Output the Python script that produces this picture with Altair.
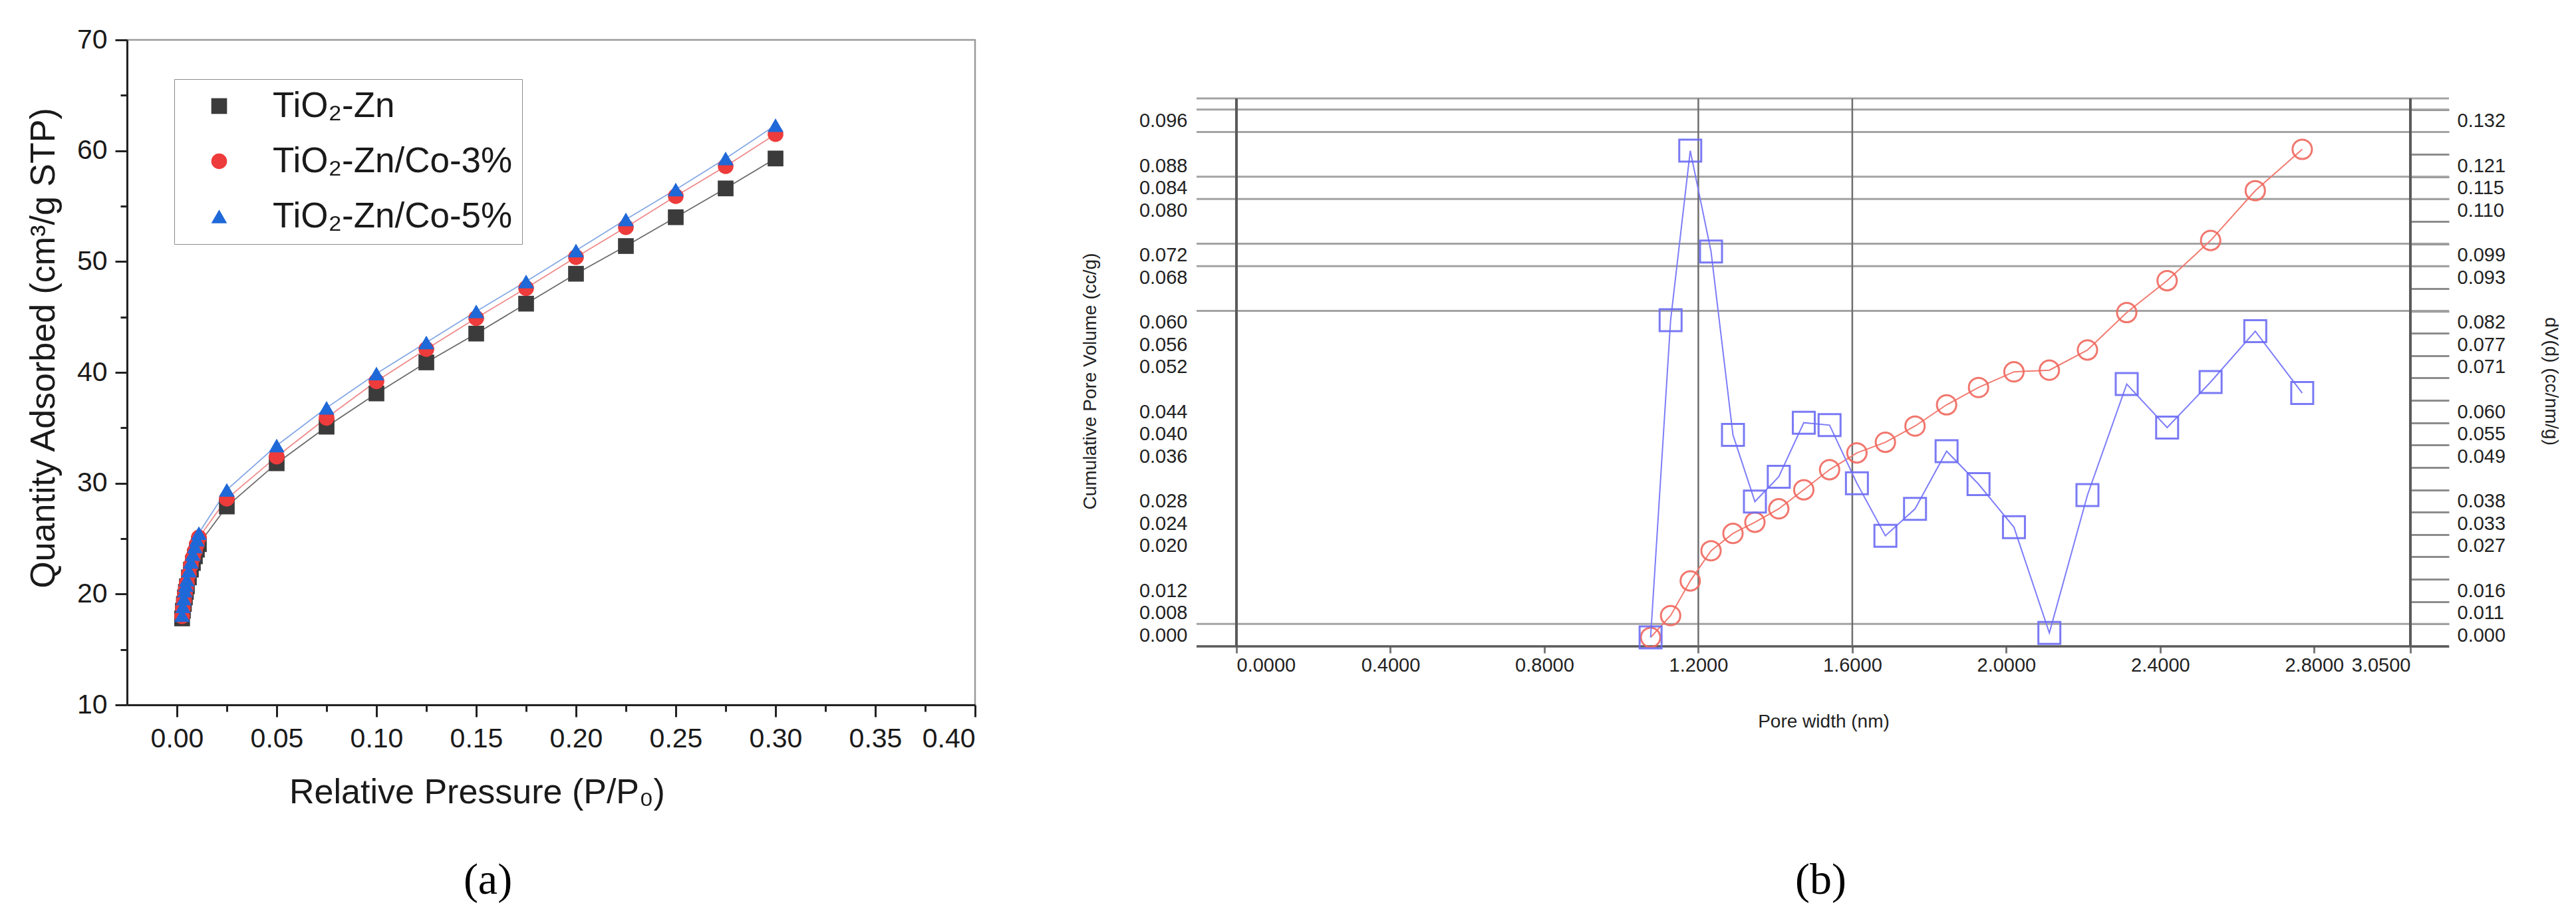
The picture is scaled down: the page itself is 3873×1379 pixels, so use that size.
import altair as alt
import pandas as pd

FONT = "Liberation Sans, Arial, DejaVu Sans, sans-serif"
SERIF = "Liberation Serif, Times New Roman, DejaVu Serif, serif"

# ---------------- Panel (a): N2 adsorption isotherms ----------------
P_REL = [0.0026, 0.003, 0.0035, 0.004, 0.0045, 0.005, 0.006, 0.007, 0.008, 0.009, 0.010, 0.011,
         0.025, 0.05, 0.075, 0.10, 0.125, 0.15, 0.175, 0.20, 0.225, 0.25, 0.275, 0.30]
Q_ZN = [17.8, 18.5, 19.1, 19.7, 20.2, 20.7, 21.5, 22.2, 22.8, 23.4, 24.0, 24.5,
        27.9, 31.8, 35.1, 38.1, 40.9, 43.5, 46.2, 48.9, 51.4, 54.0, 56.6, 59.3]
Q_CO3 = [18.0, 18.7, 19.4, 20.0, 20.5, 21.0, 21.8, 22.6, 23.3, 23.9, 24.5, 25.1,
         28.6, 32.4, 35.9, 39.2, 42.1, 44.9, 47.6, 50.4, 53.1, 55.9, 58.6, 61.5]
Q_CO5 = [18.1, 18.9, 19.6, 20.3, 20.8, 21.3, 22.1, 22.9, 23.6, 24.3, 24.9, 25.5,
         29.4, 33.4, 36.8, 39.9, 42.7, 45.5, 48.2, 51.0, 53.8, 56.5, 59.3, 62.3]
SERIES = ["TiO\u2082-Zn", "TiO\u2082-Zn/Co-3%", "TiO\u2082-Zn/Co-5%"]
SHAPES = ["square", "circle", "triangle-up"]
POINT_COLORS = ["#3b3b3b", "#ee3b3b", "#1f68d8"]
LINE_COLORS = ["#6b6b6b", "#f08a8a", "#86a9e6"]
XA_TICKS = [round(i * 0.025, 3) for i in range(17)]
YA_TICKS = list(range(10, 75, 5))

# ---------------- Panel (b): pore size distribution ----------------
PORE_W = [1.076, 1.128, 1.179, 1.233, 1.290, 1.347, 1.409, 1.474, 1.541, 1.612, 1.686,
          1.763, 1.845, 1.928, 2.020, 2.112, 2.211, 2.313, 2.418, 2.531, 2.647, 2.769]
CUM_VOL = [0.0016, 0.0055, 0.0117, 0.0171, 0.0202, 0.0222, 0.0246, 0.0280, 0.0316, 0.0346, 0.0365,
           0.0394, 0.0432, 0.0463, 0.0491, 0.0494, 0.0530, 0.0597, 0.0654, 0.0726, 0.0815, 0.0889]
DVD = [0.0022, 0.0802, 0.1219, 0.0971, 0.0520, 0.0356, 0.0417, 0.0550, 0.0544, 0.0401, 0.0272,
       0.0338, 0.0480, 0.0399, 0.0293, 0.0033, 0.0372, 0.0645, 0.0538, 0.0650, 0.0775, 0.0623]
XB_TICKS = [0.0, 0.4, 0.8, 1.2, 1.6, 2.0, 2.4, 2.8, 3.05]
LEFT_LABELS = [0.0, 0.008, 0.012, 0.020, 0.024, 0.028, 0.036, 0.040, 0.044, 0.052, 0.056,
               0.060, 0.068, 0.072, 0.080, 0.084, 0.088, 0.096]
RIGHT_TICKS = [round(k * 0.0055, 4) for k in range(25)]
RIGHT_LABELED = [0.0, 0.011, 0.0165, 0.0275, 0.033, 0.0385, 0.0495, 0.055, 0.0605, 0.0715,
                 0.077, 0.0825, 0.0935, 0.099, 0.110, 0.1155, 0.121, 0.132]
GRID_LEFT = [0.004, 0.060, 0.068, 0.072, 0.080, 0.084, 0.092, 0.096, 0.098]
FRAME_X = [0.0, 3.05]
INNER_X = [1.2, 1.6]
LEFT_TOP = 0.098
RIGHT_TOP = 0.13475

# ======================= Panel (a) =======================
WA, HA = 1275, 1000
n = len(P_REL)
df_a = pd.DataFrame({
    "p": P_REL * 3,
    "q": Q_ZN + Q_CO3 + Q_CO5,
    "series": [SERIES[0]] * n + [SERIES[1]] * n + [SERIES[2]] * n,
})

minor_x = "round(datum.value*1000) % 50 !== 0"
xa_axis = alt.Axis(
    values=XA_TICKS,
    labelExpr="round(datum.value*1000) % 50 === 0 ? format(datum.value, '.2f') : ''",
    tickSize={"condition": {"test": minor_x, "value": 10}, "value": 18},
    tickWidth=3, tickColor="#222222", domainColor="#222222", domainWidth=3,
    labelFontSize=41, labelColor="#1a1a1a", labelPadding=13, labelOverlap=False,
    grid=False, title="Relative Pressure (P/P\u2080)", titleFontSize=52,
    titleFontWeight="normal", titleColor="#1a1a1a", titleX=526, titleY=131,
    titleBaseline="middle",
)
ya_axis = alt.Axis(
    values=YA_TICKS,
    labelExpr="datum.value % 10 === 0 ? datum.label : ''",
    tickSize={"condition": {"test": "datum.value % 10 !== 0", "value": 10}, "value": 18},
    tickWidth=3, tickColor="#222222", domainColor="#222222", domainWidth=3,
    labelFontSize=41, labelColor="#1a1a1a", labelPadding=12, labelOverlap=False,
    grid=False, title="Quantity Adsorbed (cm\u00b3/g STP)", titleFontSize=52,
    titleFontWeight="normal", titleColor="#1a1a1a", titleX=-126, titleY=463,
    titleBaseline="middle",
)
xa = alt.X("p:Q", scale=alt.Scale(domain=[-0.025, 0.40], nice=False, zero=False), axis=xa_axis)
ya = alt.Y("q:Q", scale=alt.Scale(domain=[10, 70], nice=False, zero=False), axis=ya_axis)

leg = alt.Legend(
    title=None, orient="none", legendX=71, legendY=59, strokeColor="#8c8c8c",
    fillColor="white", padding=14, rowPadding=29, symbolOffset=27, labelOffset=54,
    labelFontSize=53, labelColor="#1a1a1a", symbolSize=560, labelLimit=800,
)
line_layers = [
    alt.Chart(df_a).transform_filter(alt.datum.series == s).mark_line(
        color=c, strokeWidth=1.8).encode(x=xa, y=ya, order="p:Q")
    for s, c in zip(SERIES, LINE_COLORS)
]
points_a = alt.Chart(df_a).mark_point(filled=True, size=560, opacity=1).encode(
    x=xa, y=ya,
    color=alt.Color("series:N", scale=alt.Scale(domain=SERIES, range=POINT_COLORS), legend=leg),
    shape=alt.Shape("series:N", scale=alt.Scale(domain=SERIES, range=SHAPES), legend=leg),
)
panel_a = alt.layer(*line_layers, points_a).properties(
    width=WA, height=HA,
    view=alt.ViewBackground(stroke="#9a9a9a", strokeWidth=2.5),
    title=alt.TitleParams("(a)", orient="bottom", anchor="middle", frame="group", dx=-95,
                          offset=75, font=SERIF, fontSize=66, fontWeight="normal", color="#000000"),
)

# ======================= Panel (b) =======================
WB, HB = 1765, 824
TXT = "#222222"
df_b = pd.DataFrame({"w": PORE_W, "cum": CUM_VOL, "dvd": DVD})
xb_scale = alt.Scale(domain=[0, 3.05], nice=False, zero=False)
yl_scale = alt.Scale(domain=[0, LEFT_TOP], nice=False, zero=False)
yr_scale = alt.Scale(domain=[0, RIGHT_TOP], nice=False, zero=False)

xb_axis = alt.Axis(
    values=XB_TICKS, format=".4f", labelFlush=True, labelOverlap=False, domain=False, grid=False,
    tickSize=10, tickWidth=3, tickColor="#7a7a7a", labelFontSize=29, labelColor=TXT,
    labelPadding=4, title="Pore width (nm)", titleFontSize=28, titleFontWeight="normal",
    titleColor=TXT, titleY=113, titleBaseline="middle",
)
label_shift = {"condition": {"test": "datum.value === 0", "value": -17}, "value": 17}
yl_axis = alt.Axis(
    values=LEFT_LABELS, format=".3f", ticks=False, tickSize=0, domain=False, grid=False,
    labelOverlap=False, labelPadding=74, labelFontSize=29, labelColor=TXT,
    labelBaseline="middle", labelOffset=label_shift,
    title="Cumulative Pore Volume (cc/g)", titleFontSize=28, titleFontWeight="normal",
    titleColor=TXT, titleX=-220, titleY=425, titleBaseline="middle",
)
keys = ",".join(str(int(round(v * 10000))) for v in RIGHT_LABELED)
yr_axis = alt.Axis(
    orient="right", values=RIGHT_TICKS,
    labelExpr=f"indexof([{keys}], round(datum.value*10000)) >= 0 ? format(floor(datum.value*1000 + 0.001)/1000, '.3f') : ''",
    ticks=True, tickSize=58, tickWidth=3, tickColor="#8c8c8c", domain=False, grid=False,
    labelOverlap=False, labelPadding=12, labelFontSize=29, labelColor=TXT,
    labelBaseline="middle", labelOffset=label_shift,
    title="dV(d) (cc/nm/g)", titleFontSize=28, titleFontWeight="normal", titleColor=TXT,
    titleX=210, titleY=425, titleBaseline="middle", titleAngle=90,
)

grid_b = alt.Chart(pd.DataFrame({"g": GRID_LEFT})).mark_rule(color="#a3a3a3", strokeWidth=3).encode(
    y=alt.Y("g:Q", scale=yl_scale, axis=yl_axis),
    x=alt.value(-60), x2=alt.value(WB + 58),
)
base_b = alt.Chart(pd.DataFrame({"g": [0.0]})).mark_rule(color="#5a5a5a", strokeWidth=3.5).encode(
    y=alt.Y("g:Q", scale=yl_scale, axis=yl_axis),
    x=alt.value(-60), x2=alt.value(WB + 58),
)
frame_b = alt.Chart(pd.DataFrame({"v": FRAME_X, "top": [LEFT_TOP] * 2, "bot": [0.0] * 2})).mark_rule(
    color="#5a5a5a", strokeWidth=4).encode(
    x=alt.X("v:Q", scale=xb_scale, axis=xb_axis),
    y=alt.Y("top:Q", scale=yl_scale, axis=yl_axis), y2="bot:Q",
)
inner_b = alt.Chart(pd.DataFrame({"v": INNER_X, "top": [LEFT_TOP] * 2, "bot": [0.0] * 2})).mark_rule(
    color="#6e6e6e", strokeWidth=2.5).encode(
    x=alt.X("v:Q", scale=xb_scale, axis=xb_axis),
    y=alt.Y("top:Q", scale=yl_scale, axis=yl_axis), y2="bot:Q",
)
xb = alt.X("w:Q", scale=xb_scale, axis=xb_axis)
red_line = alt.Chart(df_b).mark_line(color="#f27a70", strokeWidth=2).encode(
    x=xb, y=alt.Y("cum:Q", scale=yl_scale, axis=yl_axis))
red_pts = alt.Chart(df_b).mark_point(shape="circle", filled=False, size=850, strokeWidth=3,
                                     color="#f0695f", opacity=0.9).encode(
    x=xb, y=alt.Y("cum:Q", scale=yl_scale, axis=yl_axis))
blue_line = alt.Chart(df_b).mark_line(color="#7d7dfa", strokeWidth=2).encode(
    x=xb, y=alt.Y("dvd:Q", scale=yr_scale, axis=yr_axis))
blue_pts = alt.Chart(df_b).mark_point(shape="square", filled=False, size=1090, strokeWidth=3,
                                      color="#6c6cf5", opacity=0.9).encode(
    x=xb, y=alt.Y("dvd:Q", scale=yr_scale, axis=yr_axis))

left_group = alt.layer(grid_b, base_b, frame_b, inner_b, red_line, red_pts)
right_group = alt.layer(blue_line, blue_pts)
panel_b = alt.layer(left_group, right_group).resolve_scale(y="independent").properties(
    width=WB, height=HB,
    title=alt.TitleParams("(b)", orient="bottom", anchor="middle", frame="group", dx=-4,
                          offset=193, font=SERIF, fontSize=66, fontWeight="normal", color="#000000"),
)

chart = alt.hconcat(panel_a, panel_b, spacing=393, bounds="flush", center=True).resolve_scale(
    color="independent", shape="independent"
).resolve_legend(
    color="independent", shape="independent"
).properties(
    padding={"left": 29, "top": 29, "right": 5, "bottom": 5},
    background="white",
).configure(font=FONT).configure_view(stroke=None)

chart.save("out.html", embed_options={"renderer": "svg", "actions": False})
